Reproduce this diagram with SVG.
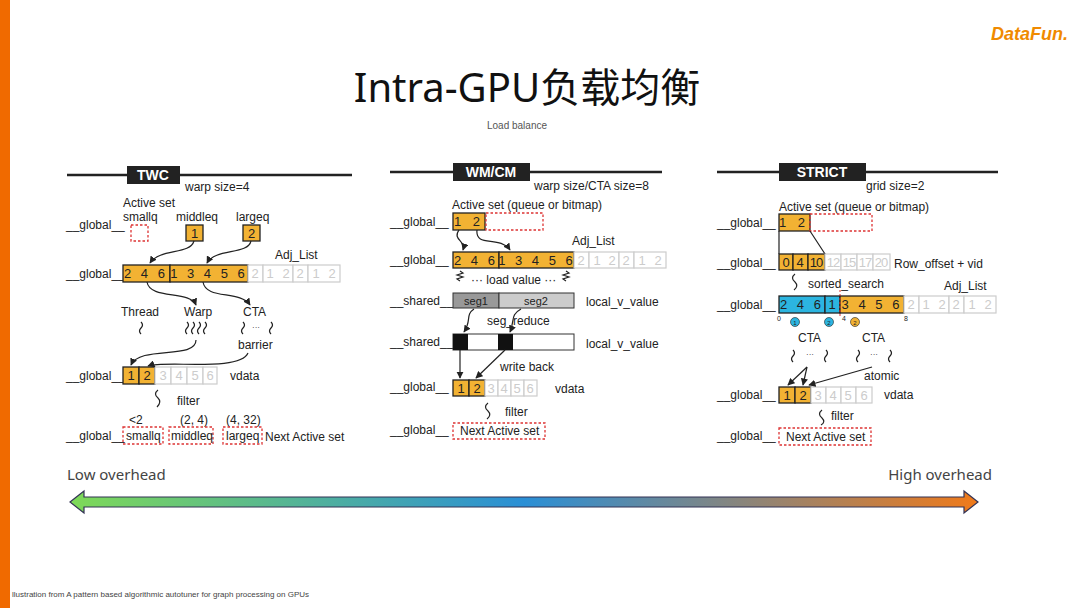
<svg xmlns="http://www.w3.org/2000/svg" width="1080" height="608" viewBox="0 0 1080 608">
<style>
text{font-family:"Liberation Sans","Noto Sans CJK SC",sans-serif;fill:#222}
.t{font-size:12px}
.c{font-size:13px;text-anchor:middle}
.g{fill:#ccc}
.o{fill:#f2b233;stroke:#222;stroke-width:1.3}
.gr{fill:#fff;stroke:#ccc;stroke-width:1.2}
.d{fill:none;stroke:#d33;stroke-width:1.3;stroke-dasharray:2.5 2}
.k{fill:none;stroke:#222;stroke-width:1.2}
.hd{fill:#222}
.ht{fill:#fff;font-size:14px;text-anchor:middle;font-weight:bold}
</style>
<defs>
<marker id="a" viewBox="0 0 10 10" refX="9" refY="5" markerWidth="6" markerHeight="6" orient="auto"><path d="M0,0 L10,5 L0,10 z" fill="#222"/></marker>
<linearGradient id="lg" x1="0" x2="1"><stop offset="0" stop-color="#7ed957"/><stop offset="0.5" stop-color="#2a8fd6"/><stop offset="1" stop-color="#f07a1a"/></linearGradient>
</defs>
<rect width="1080" height="608" fill="#fff"/>
<rect x="0" y="0" width="10" height="608" fill="#f06a00"/>
<text x="1068" y="40" style="font-size:18px;font-weight:bold;font-style:italic;fill:#f08a00;text-anchor:end">DataFun.</text>
<text x="527" y="102" style="font-family:'Noto Sans','Noto Sans CJK SC',sans-serif;font-size:40px;text-anchor:middle;fill:#111">Intra-GPU负载均衡</text>
<text x="517" y="129" style="font-size:10px;fill:#555;text-anchor:middle">Load balance</text>

<g id="twc">
<line x1="67" y1="175" x2="352" y2="175" stroke="#222" stroke-width="2.5"/>
<rect class="hd" x="127" y="166" width="53" height="18"/><text class="ht" x="153" y="180">TWC</text>
<text class="t" x="185" y="191">warp size=4</text>
<text class="t" x="66" y="229">__global__</text>
<text class="t" x="123" y="207">Active set</text>
<text class="t" x="123" y="221">smallq</text><text class="t" x="176" y="221">middleq</text><text class="t" x="236" y="221">largeq</text>
<rect class="d" x="131" y="225" width="17" height="16"/>
<rect class="o" x="186" y="225" width="17" height="16"/><text class="c" x="194.5" y="238">1</text>
<rect class="o" x="243" y="225" width="17" height="16"/><text class="c" x="251.5" y="238">2</text>
<text class="t" x="275" y="259">Adj_List</text>
<text class="t" x="66" y="278">__global__</text>
<rect class="o" x="123" y="265" width="47" height="17"/><rect class="o" x="170" y="265" width="78" height="17"/>
<text class="c" x="146" y="278" style="letter-spacing:3px">2 4 6</text><text class="c" x="209" y="278" style="letter-spacing:3px">1 3 4 5 6</text>
<rect class="gr" x="248" y="265" width="15" height="17"/><rect class="gr" x="263" y="265" width="30" height="17"/><rect class="gr" x="293" y="265" width="15" height="17"/><rect class="gr" x="308" y="265" width="32" height="17"/>
<text x="255" y="278" class="c g">2</text><text x="270" y="278" class="c g">1</text><text x="286" y="278" class="c g">2</text><text x="300" y="278" class="c g">2</text><text x="316" y="278" class="c g">1</text><text x="332" y="278" class="c g">2</text>
<text class="t" x="121" y="316">Thread</text><text class="t" x="184" y="316">Warp</text><text class="t" x="243" y="316">CTA</text>
<path class="k" d="M141 322 q3 3 0 6 q-3 3 0 6 M187 322 q3 3 0 6 q-3 3 0 6 M193 322 q3 3 0 6 q-3 3 0 6 M199 322 q3 3 0 6 q-3 3 0 6 M205 322 q3 3 0 6 q-3 3 0 6 M243 322 q3 3 0 6 q-3 3 0 6 M271 322 q3 3 0 6 q-3 3 0 6"/>
<text class="t" x="252" y="330" style="font-size:8px">···</text>
<text class="t" x="238" y="349">barrier</text>
<text class="t" x="66" y="380">__global__</text>
<rect class="o" x="123" y="367" width="16" height="17"/><rect class="o" x="139" y="367" width="16" height="17"/>
<text class="c" x="131" y="380">1</text><text class="c" x="147" y="380">2</text>
<rect class="gr" x="155" y="367" width="16" height="17"/><rect class="gr" x="171" y="367" width="16" height="17"/><rect class="gr" x="187" y="367" width="16" height="17"/><rect class="gr" x="203" y="367" width="14" height="17"/>
<text class="c g" x="163" y="380">3</text><text class="c g" x="179" y="380">4</text><text class="c g" x="195" y="380">5</text><text class="c g" x="210" y="380">6</text>
<text class="t" x="230" y="380">vdata</text>
<path class="k" d="M158 390 q-5 4 0 8 q4 4 -1 9"/>
<text class="t" x="177" y="405">filter</text>
<text class="t" x="129" y="424">&lt;2</text><text class="t" x="180" y="424">(2, 4)</text><text class="t" x="226" y="424">(4, 32)</text>
<text class="t" x="66" y="440">__global__</text>
<rect class="d" x="123" y="427" width="40" height="17"/><text class="t" x="126" y="440">smallq</text>
<rect class="d" x="169" y="427" width="44" height="17"/><text class="t" x="171" y="440">middleq</text>
<rect class="d" x="223" y="427" width="39" height="17"/><text class="t" x="226" y="440">largeq</text>
<text class="t" x="265" y="441">Next Active set</text>
</g>

<g id="wm">
<line x1="390" y1="172" x2="662" y2="172" stroke="#222" stroke-width="2.5"/>
<rect class="hd" x="453" y="163" width="77" height="18"/><text class="ht" x="491" y="177">WM/CM</text>
<text class="t" x="534" y="190">warp size/CTA size=8</text>
<text class="t" x="452" y="209">Active set (queue or bitmap)</text>
<text class="t" x="390" y="226">__global__</text>
<rect class="o" x="453" y="213" width="32" height="17"/><text class="c" x="469" y="226" style="letter-spacing:4px">1 2</text>
<rect class="d" x="486" y="213" width="57" height="17"/>
<text class="t" x="572" y="245">Adj_List</text>
<text class="t" x="390" y="264">__global__</text>
<rect class="o" x="453" y="252" width="46" height="16"/><rect class="o" x="499" y="252" width="75" height="16"/>
<text class="c" x="476" y="265" style="letter-spacing:3px">2 4 6</text><text class="c" x="537" y="265" style="letter-spacing:3px">1 3 4 5 6</text>
<rect class="gr" x="574" y="252" width="15" height="16"/><rect class="gr" x="589" y="252" width="30" height="16"/><rect class="gr" x="619" y="252" width="15" height="16"/><rect class="gr" x="634" y="252" width="32" height="16"/>
<text class="c g" x="581" y="265">2</text><text class="c g" x="597" y="265">1</text><text class="c g" x="612" y="265">2</text><text class="c g" x="626" y="265">2</text><text class="c g" x="642" y="265">1</text><text class="c g" x="658" y="265">2</text>
<path class="k" d="M460 271 l3 2 l-6 2 l6 2 l-6 2 l3 2 M566 271 l3 2 l-6 2 l6 2 l-6 2 l3 2"/>
<text class="t" x="471" y="284">··· load value ···</text>
<text class="t" x="390" y="305">__shared__</text>
<rect x="453" y="293" width="46" height="15" fill="#999" stroke="#333"/><rect x="499" y="293" width="75" height="15" fill="#ccc" stroke="#333"/>
<text class="c" x="476" y="305" style="font-size:11px">seg1</text><text class="c" x="536" y="305" style="font-size:11px">seg2</text>
<text class="t" x="586" y="306">local_v_value</text>
<text class="t" x="487" y="325">seg_reduce</text>
<text class="t" x="390" y="346">__shared__</text>
<rect x="453" y="334" width="121" height="16" fill="#fff" stroke="#333"/><rect x="453" y="334" width="15" height="16" fill="#111"/><rect x="498" y="334" width="15" height="16" fill="#111"/>
<text class="t" x="586" y="348">local_v_value</text>
<text class="t" x="500" y="371">write back</text>
<text class="t" x="390" y="391">__global__</text>
<rect class="o" x="453" y="380" width="16" height="16"/><rect class="o" x="469" y="380" width="16" height="16"/>
<text class="c" x="461" y="393">1</text><text class="c" x="477" y="393">2</text>
<rect class="gr" x="485" y="380" width="13" height="16"/><rect class="gr" x="498" y="380" width="13" height="16"/><rect class="gr" x="511" y="380" width="13" height="16"/><rect class="gr" x="524" y="380" width="13" height="16"/>
<text class="c g" x="491" y="393">3</text><text class="c g" x="504" y="393">4</text><text class="c g" x="517" y="393">5</text><text class="c g" x="530" y="393">6</text>
<text class="t" x="555" y="393">vdata</text>
<path class="k" d="M488 403 q-5 4 0 8 q4 4 -1 8"/>
<text class="t" x="505" y="416">filter</text>
<text class="t" x="390" y="434">__global__</text>
<rect class="d" x="453" y="423" width="92" height="16"/><text class="t" x="460" y="435">Next Active set</text>
</g>

<g id="strict">
<line x1="717" y1="172" x2="998" y2="172" stroke="#222" stroke-width="2.5"/>
<rect class="hd" x="779" y="163" width="87" height="18"/><text class="ht" x="822" y="177">STRICT</text>
<text class="t" x="866" y="190">grid size=2</text>
<text class="t" x="779" y="211">Active set (queue or bitmap)</text>
<text class="t" x="717" y="227">__global__</text>
<rect class="o" x="779" y="214" width="31" height="17"/><text class="c" x="794" y="227" style="letter-spacing:4px">1 2</text>
<rect class="d" x="810" y="214" width="62" height="17"/>
<path class="k" d="M779 231 L779 254 M810 231 L825 254"/>
<text class="t" x="717" y="267">__global__</text>
<rect class="o" x="779" y="254" width="14" height="16"/><rect class="o" x="793" y="254" width="15" height="16"/><rect class="o" x="808" y="254" width="17" height="16"/>
<text class="c" x="786" y="267">0</text><text class="c" x="800" y="267">4</text><text class="c" x="816" y="267" style="letter-spacing:-1px">10</text>
<rect class="gr" x="825" y="254" width="16" height="16"/><rect class="gr" x="841" y="254" width="16" height="16"/><rect class="gr" x="857" y="254" width="16" height="16"/><rect class="gr" x="873" y="254" width="17" height="16"/>
<text class="c g" x="833" y="267" style="letter-spacing:-1px">12</text><text class="c g" x="849" y="267" style="letter-spacing:-1px">15</text><text class="c g" x="865" y="267" style="letter-spacing:-1px">17</text><text class="c g" x="881" y="267" style="letter-spacing:-1px">20</text>
<text class="t" x="894" y="268">Row_offset + vid</text>
<path class="k" d="M795 274 q-5 4 0 8 q4 4 -1 8"/>
<text class="t" x="808" y="288">sorted_search</text>
<text class="t" x="944" y="290">Adj_List</text>
<text class="t" x="717" y="309">__global__</text>
<rect x="779" y="296" width="46" height="17" fill="#2cb5e0" stroke="#222" stroke-width="1.3"/><rect x="825" y="296" width="15" height="17" fill="#2cb5e0" stroke="#222" stroke-width="1.3"/>
<rect class="o" x="840" y="296" width="64" height="17"/>
<text class="c" x="802" y="309" style="letter-spacing:3px">2 4 6</text><text class="c" x="832" y="309">1</text><text class="c" x="872" y="309" style="letter-spacing:3px">3 4 5 6</text>
<rect class="gr" x="904" y="296" width="15" height="17"/><rect class="gr" x="919" y="296" width="30" height="17"/><rect class="gr" x="949" y="296" width="15" height="17"/><rect class="gr" x="964" y="296" width="32" height="17"/>
<text class="c g" x="911" y="309">2</text><text class="c g" x="926" y="309">1</text><text class="c g" x="942" y="309">2</text><text class="c g" x="956" y="309">2</text><text class="c g" x="972" y="309">1</text><text class="c g" x="988" y="309">2</text>
<line x1="840" y1="290" x2="840" y2="318" stroke="#d33" stroke-dasharray="2 2"/>
<text x="777" y="321" style="font-size:7px">0</text><text x="842" y="321" style="font-size:7px">4</text><text x="904" y="321" style="font-size:7px">8</text>
<circle cx="795" cy="322" r="4.5" fill="#2cb5e0" stroke="#222" stroke-width="0.6"/><circle cx="829" cy="322" r="4.5" fill="#2cb5e0" stroke="#222" stroke-width="0.6"/><circle cx="855" cy="322" r="4.5" fill="#f2b233" stroke="#222" stroke-width="0.6"/>
<text x="795" y="324.5" style="font-size:6px;text-anchor:middle">1</text><text x="829" y="324.5" style="font-size:6px;text-anchor:middle">2</text><text x="855" y="324.5" style="font-size:6px;text-anchor:middle">2</text>
<text class="t" x="798" y="342">CTA</text><text class="t" x="862" y="342">CTA</text>
<path class="k" d="M793 350 q3 3 0 6 q-3 3 0 6 M826 350 q3 3 0 6 q-3 3 0 6 M858 350 q3 3 0 6 q-3 3 0 6 M890 350 q3 3 0 6 q-3 3 0 6"/>
<text x="806" y="357" style="font-size:8px">···</text><text x="870" y="357" style="font-size:8px">···</text>
<text class="t" x="864" y="380">atomic</text>
<text class="t" x="717" y="399">__global__</text>
<rect class="o" x="779" y="387" width="16" height="16"/><rect class="o" x="795" y="387" width="16" height="16"/>
<text class="c" x="787" y="400">1</text><text class="c" x="803" y="400">2</text>
<rect class="gr" x="811" y="387" width="15" height="16"/><rect class="gr" x="826" y="387" width="15" height="16"/><rect class="gr" x="841" y="387" width="15" height="16"/><rect class="gr" x="856" y="387" width="16" height="16"/>
<text class="c g" x="818" y="400">3</text><text class="c g" x="833" y="400">4</text><text class="c g" x="848" y="400">5</text><text class="c g" x="864" y="400">6</text>
<text class="t" x="884" y="399">vdata</text>
<path class="k" d="M822 410 q-5 4 0 8 q4 4 -1 7"/>
<text class="t" x="831" y="420">filter</text>
<text class="t" x="717" y="440">__global__</text>
<rect class="d" x="779" y="428" width="92" height="17"/><text class="t" x="786" y="441">Next Active set</text>
</g>

<g id="connectors">
<path class="k" marker-end="url(#a)" d="M194 241 C190 255 160 248 150 263"/>
<path class="k" marker-end="url(#a)" d="M251 241 C248 255 215 248 207 263"/>
<path class="k" marker-end="url(#a)" d="M147 282 C150 300 190 290 196 305"/>
<path class="k" marker-end="url(#a)" d="M203 282 C206 300 240 290 250 305"/>
<path class="k" marker-end="url(#a)" d="M196 340 C196 360 140 345 131 365"/>
<path class="k" marker-end="url(#a)" d="M248 353 C240 372 165 360 148 366"/>
<path class="k" marker-end="url(#a)" d="M459 230 C452 240 466 240 463 250"/>
<path class="k" marker-end="url(#a)" d="M477 230 C475 248 500 235 510 250"/>
<path class="k" marker-end="url(#a)" d="M474 309 C465 315 472 320 464 332"/>
<path class="k" marker-end="url(#a)" d="M521 309 C510 315 515 320 510 332"/>
<path class="k" marker-end="url(#a)" d="M460 350 L460 378"/>
<path class="k" marker-end="url(#a)" d="M505 350 L476 378"/>
<path class="k" marker-end="url(#a)" d="M807 367 L788 385"/>
<path class="k" marker-end="url(#a)" d="M807 367 L803 385"/>
<path class="k" marker-end="url(#a)" d="M872 367 L809 385"/>
</g>

<text x="67" y="480" style="font-family:'Noto Sans',sans-serif;font-size:15px;fill:#444">Low overhead</text>
<text x="992" y="480" style="font-family:'Noto Sans',sans-serif;font-size:15px;fill:#444;text-anchor:end">High overhead</text>
<path d="M70 502 L84 491 L84 497 L964 497 L964 491 L978 502 L964 513 L964 507 L84 507 L84 513 Z" fill="url(#lg)" stroke="#335" stroke-width="1.2"/>
<text x="12" y="597" style="font-size:8px;fill:#444">llustration from A pattern based algorithmic autotuner for graph processing on GPUs</text>
</svg>
